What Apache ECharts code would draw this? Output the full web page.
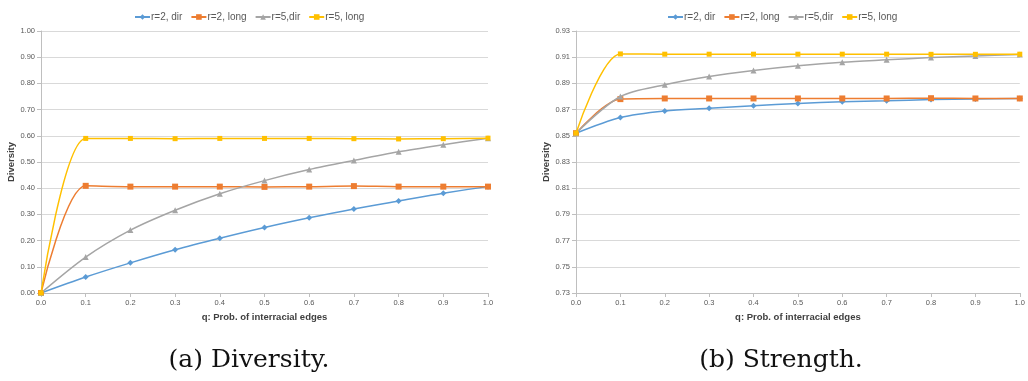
<!DOCTYPE html>
<html>
<head>
<meta charset="utf-8">
<script src="https://cdn.jsdelivr.net/npm/echarts@6/dist/echarts.min.js"></script>
<style>
  html, body { margin: 0; padding: 0; background: #fff; }
  #main { width: 1028px; height: 381px; }
</style>
</head>
<body>
<div id="main"></div>
<script>
// q values on the x axis
var qValues = [0.0, 0.1, 0.2, 0.3, 0.4, 0.5, 0.6, 0.7, 0.8, 0.9, 1.0];
var seriesNames = ['r=2, dir', 'r=2, long', 'r=5,dir', 'r=5, long'];

// (a) diversity
var divR2Dir  = [0.000, 0.061, 0.115, 0.165, 0.209, 0.250, 0.287, 0.321, 0.351, 0.381, 0.406];
var divR2Long = [0.000, 0.409, 0.406, 0.406, 0.406, 0.405, 0.406, 0.408, 0.406, 0.406, 0.406];
var divR5Dir  = [0.000, 0.137, 0.240, 0.316, 0.379, 0.429, 0.471, 0.506, 0.539, 0.566, 0.591];
var divR5Long = [0.000, 0.590, 0.590, 0.589, 0.590, 0.590, 0.590, 0.589, 0.588, 0.589, 0.591];

// (b) strength
var strR2Dir  = [0.852, 0.864, 0.869, 0.871, 0.873, 0.8747, 0.876, 0.8767, 0.8777, 0.878, 0.8785];
var strR2Long = [0.852, 0.878, 0.8785, 0.8785, 0.8785, 0.8785, 0.8785, 0.8785, 0.8787, 0.8785, 0.8785];
var strR5Dir  = [0.852, 0.880, 0.889, 0.8953, 0.8998, 0.9034, 0.9062, 0.908, 0.9097, 0.911, 0.912];
var strR5Long = [0.852, 0.9125, 0.9123, 0.9123, 0.9123, 0.9123, 0.9123, 0.9123, 0.9122, 0.9122, 0.9123];

var divTicks = { min: 0, max: 1, step: 0.1 };
var strTicks = { min: 0.73, max: 0.93, step: 0.02 };

var colors = ['#5B9BD5', '#ED7D31', '#A5A5A5', '#FFC000'];
var symbols = ['diamond', 'rect', 'triangle', 'rect'];
var symbolSizes = [6, 6, 6, 5];

var labelColor = '#595959';
var lineColor = '#BFBFBF';

var chart = echarts.init(document.getElementById('main'));

function xAxisFor(i) {
  return {
    type: 'value', gridIndex: i, min: 0, max: 1, interval: 0.1,
    name: 'q: Prob. of interracial edges', nameLocation: 'middle', nameGap: 17,
    nameTextStyle: { fontFamily: 'Liberation Sans', fontWeight: 'bold', fontSize: 9.5, color: '#404040' },
    axisLine: { show: true, lineStyle: { color: lineColor, width: 1 } },
    axisTick: { show: true, length: 4, lineStyle: { color: lineColor } },
    axisLabel: { fontFamily: 'Liberation Sans', fontSize: 7.5, color: labelColor, margin: 6,
      formatter: function (v) { return v.toFixed(1); } },
    splitLine: { show: false }
  };
}

// strength axis is drawn offset from its base so ticks start exactly at 0.73
function yAxisFor(i, t) {
  return {
    type: 'value', gridIndex: i, min: 0, max: t.max - t.min, interval: t.step,
    name: 'Diversity', nameLocation: 'middle', nameGap: 25,
    nameTextStyle: { fontFamily: 'Liberation Sans', fontWeight: 'bold', fontSize: 9.5, color: '#404040' },
    axisLine: { show: true, lineStyle: { color: lineColor, width: 1 } },
    axisTick: { show: true, length: 4, lineStyle: { color: lineColor } },
    axisLabel: { fontFamily: 'Liberation Sans', fontSize: 7.5, color: labelColor, margin: 6,
      formatter: function (v) { return (v + t.min).toFixed(2); } },
    splitLine: { show: true, lineStyle: { color: '#D9D9D9', width: 1 } }
  };
}

function makeSeries(name, idx, values, gridIdx, base) {
  var pts = [];
  for (var k = 0; k < qValues.length; k++) {
    pts.push([qValues[k], values[k] - base]);
  }
  return {
    name: name, type: 'line', xAxisIndex: gridIdx, yAxisIndex: gridIdx,
    data: pts, smooth: 0.3, symbol: symbols[idx], symbolSize: symbolSizes[idx],
    itemStyle: { color: colors[idx] },
    lineStyle: { color: colors[idx], width: 1.5 },
    z: 2 + idx
  };
}

var divData = [divR2Dir, divR2Long, divR5Dir, divR5Long];
var strData = [strR2Dir, strR2Long, strR5Dir, strR5Long];
var series = [];
for (var s = 0; s < 4; s++) {
  series.push(makeSeries(seriesNames[s], s, divData[s], 0, divTicks.min));
}
for (var s2 = 0; s2 < 4; s2++) {
  series.push(makeSeries(seriesNames[s2], s2, strData[s2], 1, strTicks.min));
}

var legendBase = {
  data: seriesNames, top: 7, itemWidth: 15, itemHeight: 7, itemGap: 8,
  textStyle: { fontFamily: 'Liberation Sans', fontSize: 10, color: labelColor, padding: [0, 0, 0, -4] }
};

chart.setOption({
  animation: false,
  backgroundColor: '#fff',
  title: [
    { text: '(a) Diversity.', left: 244, top: 343, textAlign: 'center',
      textStyle: { fontFamily: 'DejaVu Serif', fontWeight: 'normal', fontSize: 25, color: '#111' } },
    { text: '(b) Strength.', left: 776, top: 343, textAlign: 'center',
      textStyle: { fontFamily: 'DejaVu Serif', fontWeight: 'normal', fontSize: 25, color: '#111' } }
  ],
  legend: [
    Object.assign({ left: 129 }, legendBase),
    Object.assign({ left: 662 }, legendBase)
  ],
  grid: [
    { left: 41, right: 540, top: 31, bottom: 88 },
    { left: 576, right: 6, top: 31, bottom: 88 }
  ],
  xAxis: [xAxisFor(0), xAxisFor(1)],
  yAxis: [yAxisFor(0, divTicks), yAxisFor(1, strTicks)],
  series: series
});
</script>
</body>
</html>
